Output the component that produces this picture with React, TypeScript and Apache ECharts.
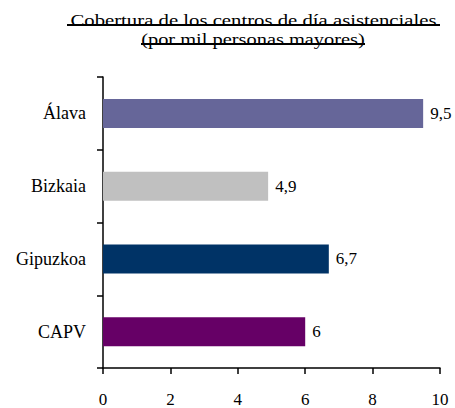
import React, { useEffect, useRef } from "react";
import * as echarts from "echarts";

const categories = ["Álava", "Bizkaia", "Gipuzkoa", "CAPV"];
const values = [9.5, 4.9, 6.7, 6];
const barColors = ["#666699", "#C0C0C0", "#003366", "#660066"];
const titleLines = [
  "Cobertura de los centros de día asistenciales",
  "(por mil personas mayores)",
];
const xMin = 0;
const xMax = 10;
const xStep = 2;

const FONT = "Liberation Serif, serif";

export default function App() {
  const ref = useRef<HTMLDivElement>(null);
  useEffect(() => {
    if (!ref.current) return;
    const chart = echarts.init(ref.current, undefined, { renderer: "svg" });
    chart.setOption({
      animation: false,
      backgroundColor: "#ffffff",
      grid: { left: 103, right: 15, top: 77, bottom: 39, containLabel: false },
      xAxis: {
        type: "value",
        min: xMin,
        max: xMax,
        interval: xStep,
        splitLine: { show: false },
        axisLine: { show: true, lineStyle: { color: "#000", width: 1.5 } },
        axisTick: { show: true, length: 6, inside: false, lineStyle: { color: "#000", width: 1.5 } },
        axisLabel: { color: "#000", fontFamily: FONT, fontSize: 17, margin: 23 },
      },
      yAxis: {
        type: "category",
        data: categories,
        inverse: true,
        axisLine: { show: true, lineStyle: { color: "#000", width: 1.5 } },
        axisTick: { show: true, length: 6, lineStyle: { color: "#000", width: 1.5 } },
        axisLabel: { color: "#000", fontFamily: FONT, fontSize: 18, margin: 17 },
      },
      series: [
        {
          type: "bar",
          data: values.map((v, i) => ({ value: v, itemStyle: { color: barColors[i] } })),
          barWidth: 29,
          label: {
            show: true,
            position: "right",
            distance: 7,
            color: "#000",
            fontFamily: FONT,
            fontSize: 17,
            formatter: (p: any) => String(p.value).replace(".", ","),
          },
        },
      ],
      graphic: [
        {
          type: "text",
          x: 253.5,
          y: 12,
          scaleX: 1.22,
          style: {
            text: titleLines[0],
            font: `17px ${FONT}`,
            fill: "#000",
            textAlign: "center",
            textVerticalAlign: "top",
          },
        },
        {
          type: "text",
          x: 253,
          y: 31,
          scaleX: 1.2,
          style: {
            text: titleLines[1],
            font: `17px ${FONT}`,
            fill: "#000",
            textAlign: "center",
            textVerticalAlign: "top",
          },
        },
        {
          type: "line",
          shape: { x1: 67, y1: 25, x2: 440, y2: 25 },
          style: { stroke: "#000", lineWidth: 2 },
        },
        {
          type: "line",
          shape: { x1: 141, y1: 44, x2: 365, y2: 44 },
          style: { stroke: "#000", lineWidth: 2 },
        },
      ],
    });
    return () => chart.dispose();
  }, []);
  return (
    <div
      ref={ref}
      style={{ position: "absolute", left: 0, top: 0, width: 455, height: 408 }}
    />
  );
}
